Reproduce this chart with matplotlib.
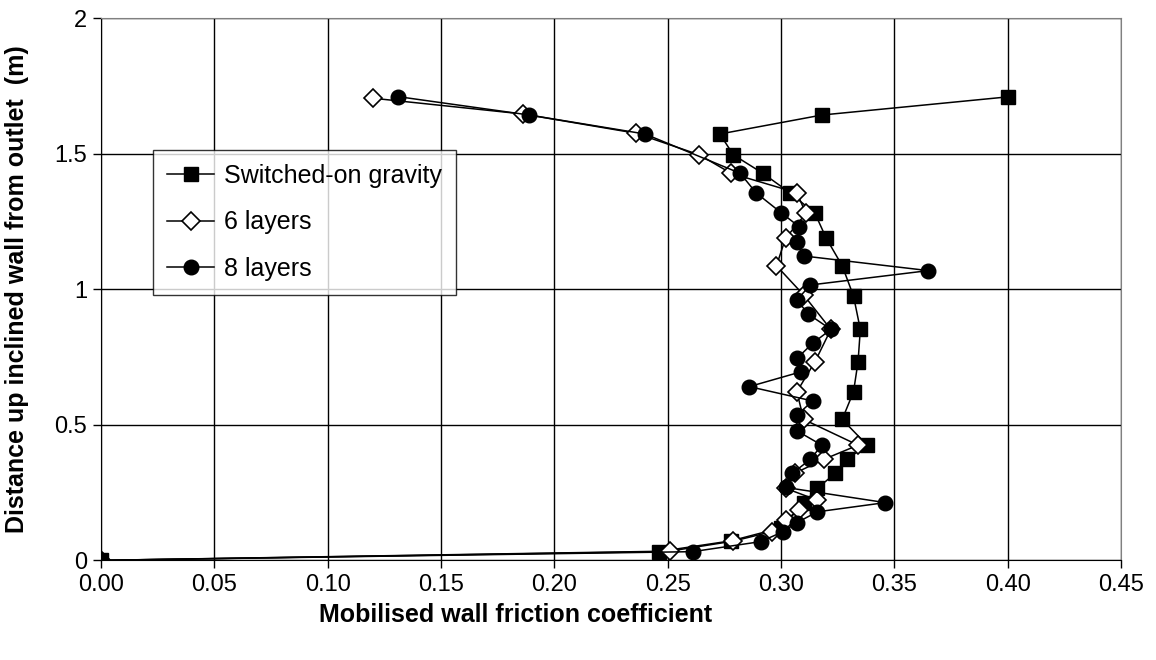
import matplotlib
matplotlib.use("Agg")
import matplotlib.pyplot as plt
from matplotlib.ticker import MultipleLocator, FuncFormatter

plt.rcParams['font.family'] = ['Liberation Sans', 'DejaVu Sans']

# Switched-on gravity
gravity_x = [0.0, 0.246, 0.278, 0.300, 0.310, 0.316, 0.324, 0.329, 0.338, 0.327, 0.332,
             0.334, 0.335, 0.332, 0.327, 0.320, 0.315, 0.304, 0.292, 0.279, 0.273, 0.318, 0.400]
gravity_y = [0.0, 0.032, 0.072, 0.12, 0.21, 0.266, 0.321, 0.373, 0.425, 0.520, 0.622,
             0.733, 0.852, 0.975, 1.087, 1.188, 1.280, 1.356, 1.428, 1.496, 1.573, 1.643, 1.710]

# 6 layers
six_x = [0.0, 0.251, 0.279, 0.296, 0.302, 0.308, 0.316, 0.302, 0.306, 0.319, 0.334, 0.310,
         0.307, 0.315, 0.322, 0.310, 0.298, 0.302, 0.311, 0.307, 0.278, 0.264, 0.236, 0.186, 0.120]
six_y = [0.0, 0.034, 0.071, 0.106, 0.149, 0.186, 0.222, 0.266, 0.321, 0.373, 0.425, 0.520,
         0.622, 0.733, 0.852, 0.979, 1.087, 1.188, 1.280, 1.356, 1.428, 1.496, 1.576, 1.647, 1.705]

# 8 layers
eight_x = [0.0, 0.261, 0.291, 0.301, 0.307, 0.316, 0.346, 0.302, 0.305, 0.313, 0.318, 0.307,
           0.307, 0.314, 0.286, 0.309, 0.307, 0.314, 0.322, 0.312, 0.307, 0.313, 0.365, 0.310,
           0.307, 0.308, 0.300, 0.289, 0.282, 0.240, 0.189, 0.131]
eight_y = [0.0, 0.032, 0.069, 0.106, 0.139, 0.179, 0.213, 0.269, 0.321, 0.373, 0.425, 0.478,
           0.536, 0.588, 0.641, 0.696, 0.745, 0.801, 0.852, 0.909, 0.961, 1.016, 1.069, 1.123,
           1.176, 1.231, 1.283, 1.356, 1.428, 1.573, 1.643, 1.711]

fig = plt.figure(figsize=(11.56, 6.6), dpi=100)
ax = fig.add_axes([0.0874, 0.151, 0.8823, 0.8213])

ax.plot(gravity_x, gravity_y, color="black", lw=1.1, marker="s", ms=10.5,
        mfc="black", mec="black", label="Switched-on gravity")
ax.plot(six_x, six_y, color="black", lw=1.1, marker="D", ms=9.5,
        mfc="white", mec="black", mew=1.2, label="6 layers")
ax.plot(eight_x, eight_y, color="black", lw=1.1, marker="o", ms=10.5,
        mfc="black", mec="black", label="8 layers")

ax.set_xlim(0, 0.45)
ax.set_ylim(0, 2)
ax.xaxis.set_major_locator(MultipleLocator(0.05))
ax.yaxis.set_major_locator(MultipleLocator(0.5))
ax.xaxis.set_major_formatter(FuncFormatter(lambda v, p: "%.2f" % v))
ax.yaxis.set_major_formatter(FuncFormatter(lambda v, p: "%g" % v))
ax.grid(True, color="black", lw=1)
ax.set_axisbelow(True)
for s in ax.spines.values():
  s.set_color("#808080")
ax.spines["left"].set_color("black")
ax.spines["bottom"].set_color("black")
ax.tick_params(direction="out", length=6, width=1, labelsize=17, pad=4)

ax.set_xlabel("Mobilised wall friction coefficient", fontsize=18, fontweight="bold")
ax.xaxis.set_label_coords(0.406, -0.079)
ax.set_ylabel("Distance up inclined wall from outlet  (m)", fontsize=18, fontweight="bold")
ax.yaxis.set_label_coords(-0.0706, 0.5)

leg = ax.legend(loc="upper left", bbox_to_anchor=(0.051, 0.757), fontsize=18,
                frameon=True, fancybox=False, edgecolor="black", borderpad=0.55,
                labelspacing=0.9, handlelength=1.9, handletextpad=0.4,
                borderaxespad=0)
leg.get_frame().set_linewidth(1)

fig.savefig("out.png", dpi=100)
